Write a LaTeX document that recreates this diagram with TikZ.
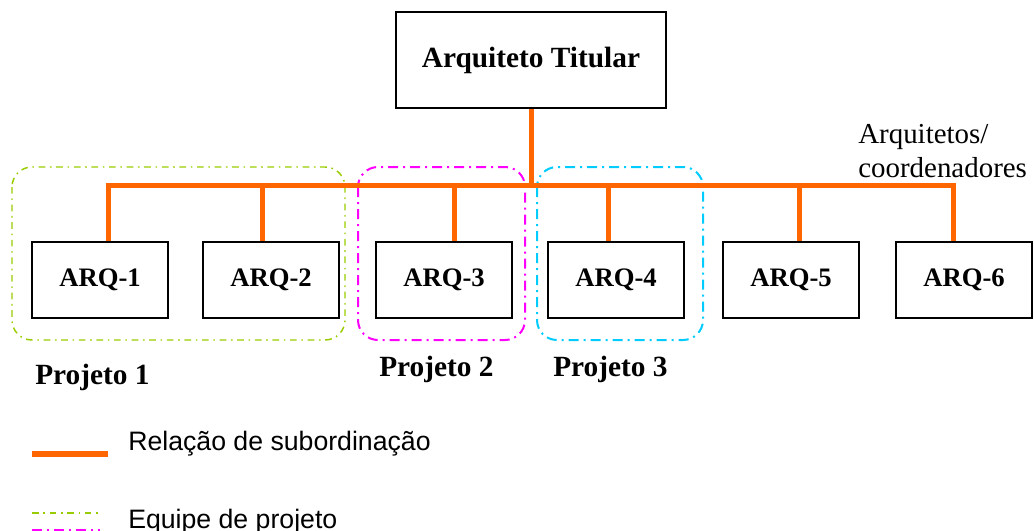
\documentclass[tikz,border=0pt]{standalone}
\usepackage{fontspec}
\setmainfont{Liberation Serif}
\newfontfamily\legendfont{Liberation Sans}
\usetikzlibrary{positioning}
\definecolor{suborange}{HTML}{FF6600}
\definecolor{teamgreen}{HTML}{99CC00}
\definecolor{teammagenta}{HTML}{FF00FF}
\definecolor{teamcyan}{HTML}{00CCFF}

\begin{document}
\begin{tikzpicture}[x=0.75pt,y=-0.75pt,
    chief/.style={draw, line width=1.5pt, minimum width=202.5pt, minimum height=72pt, font=\fontsize{22}{26}\selectfont\bfseries},
    arqbox/.style={draw, line width=1.5pt, minimum width=102pt, minimum height=57pt, font=\fontsize{20}{24}\selectfont\bfseries},
    sub/.style={suborange, line width=3.75pt},
    team/.style={line width=1.5pt, rounded corners=15pt, dash pattern=on 7.5pt off 3.75pt on 1.5pt off 3.75pt},
    thinteam/.style={team, line width=1.1pt, dash pattern=on 5pt off 3.5pt on 1.2pt off 3.5pt},
    projlabel/.style={anchor=base west, inner sep=0pt, font=\fontsize{22}{26}\selectfont\bfseries},
    legendtext/.style={anchor=base west, inner sep=0pt, font=\legendfont\fontsize{20}{24}\selectfont}]
    \useasboundingbox (0,0) rectangle (1034,531);

    % Project teams
    \draw[thinteam, teamgreen] (12,167) rectangle (345,340);
    \draw[team, teammagenta] (358,167) rectangle (525,340);
    \draw[team, teamcyan] (537,167) rectangle (703,340);

    % Boxes
    \node[chief] (titular) at (531,60) {Arquiteto Titular};
    \foreach \n/\x in {1/100, 2/271, 3/444, 4/616, 5/791, 6/964}
      \node[arqbox] (arq\n) at (\x,280) {ARQ-\n};

    % Subordination lines
    \coordinate (bus) at (531,185);
    \draw[sub] (titular.south) -- (bus);
    \draw[sub] ([xshift=6pt]arq1.north) |- ([xshift=-8.25pt]arq6.north |- bus) -- ([xshift=-8.25pt]arq6.north);
    \foreach \n/\d in {2/-6.75pt, 3/7.5pt, 4/-6pt, 5/6pt}
      \draw[sub] ([xshift=\d]arq\n.north) -- ([xshift=\d]arq\n.north |- bus);

    % Labels
    \node[anchor=base west, inner sep=0pt, align=left, font=\fontsize{21.7}{25.5}\selectfont] (coord) at (858,177) {Arquitetos/\\coordenadores};
    \node[projlabel] (proj1) at (35,384) {Projeto 1};
    \node[projlabel] (proj2) at (379,376) {Projeto 2};
    \node[projlabel] (proj3) at (553,376) {Projeto 3};

    % Legend
    \draw[sub, line width=4.5pt] (32,454) -- (108,454);
    \node[legendtext] (subtext) at (128,450) {Relação de subordinação};
    \draw[thinteam, teamgreen] (32,513) -- (100,513);
    \draw[team, teammagenta] (32,530) -- (100,530);
    \node[legendtext] (teamtext) at (128,528) {Equipe de projeto};
  \end{tikzpicture}
\end{document}
